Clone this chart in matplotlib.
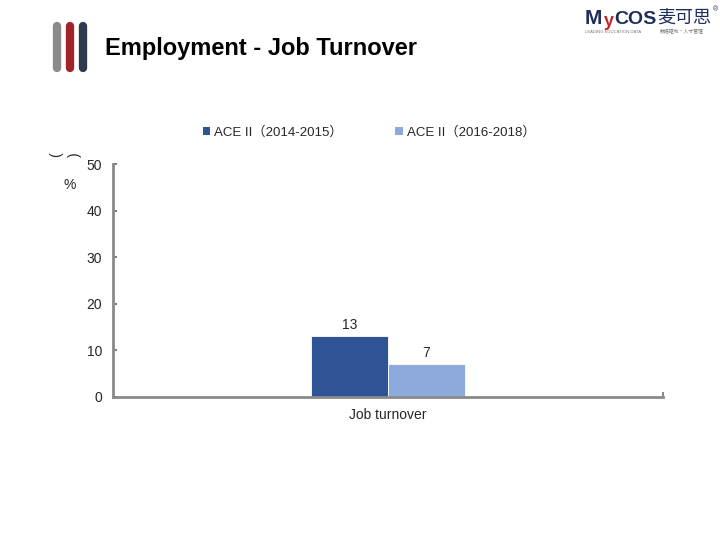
import matplotlib
matplotlib.use("Agg")
import matplotlib.pyplot as plt
from matplotlib.lines import Line2D
from matplotlib.patches import Patch
import numpy as np

plt.rcParams['font.family'] = ['Liberation Sans', 'Noto Sans CJK SC', 'DejaVu Sans']

categories = ["Job turnover"]
series_names = ["ACE II（2014-2015）", "ACE II（2016-2018）"]
values_2014 = [13]
values_2016 = [7]
yticks = [0, 10, 20, 30, 40, 50]
colors = ["#2F5495", "#8EAADC"]

fig = plt.figure(figsize=(7.2, 5.4), dpi=100)
ax = fig.add_axes([113/720, 1-397/540, 550/720, 233/540])

x = np.arange(len(categories))
w = 0.14
b1 = ax.bar(x - w/2, values_2014, w, color=colors[0], edgecolor='white', linewidth=0.6, label=series_names[0])
b2 = ax.bar(x + w/2, values_2016, w, color=colors[1], edgecolor='white', linewidth=0.6, label=series_names[1])
for bars, vals in ((b1, values_2014), (b2, values_2016)):
    for r, v in zip(bars, vals):
        ax.annotate(f"{v:g}", (r.get_x() + r.get_width()/2, v), xytext=(0, 3.5),
                    textcoords='offset points', ha='center', va='bottom', fontsize=10, color='#262626')

ax.set_xlim(-0.5, 0.5)
ax.set_ylim(0, 50)
ax.set_yticks(yticks)
ax.set_xticks(x)
ax.set_xticklabels(categories)
ax.tick_params(axis='y', direction='in', length=3, color='#808080', width=1.5, labelsize=10, labelcolor='#262626', pad=8)
ax.tick_params(axis='x', length=0, labelsize=10, labelcolor='#262626', pad=8)
for s in ['top', 'right']:
    ax.spines[s].set_visible(False)
for s in ['left', 'bottom']:
    ax.spines[s].set_color('#8a8a8a')
    ax.spines[s].set_linewidth(2)
# category boundary tick on x axis (right end)
ax.plot([0.5, 0.5], [0, 0.8], color='#8a8a8a', lw=1.5, clip_on=False)

handles = [Patch(facecolor=colors[0]), Patch(facecolor=colors[1])]
fig.legend(handles, series_names, loc='center', bbox_to_anchor=(369/720, 1-132/540), ncol=2,
           frameon=False, fontsize=9.5, handlelength=0.55, handleheight=0.55, handletextpad=0.3,
           columnspacing=4.0, labelcolor='#262626')

# y-axis unit label (rendered rotated in the reference)
fig.text(56/720, 1-155/540, "(", rotation=90, ha='center', va='center', fontsize=10, color='#262626')
fig.text(75/720, 1-155/540, ")", rotation=90, ha='center', va='center', fontsize=10, color='#262626')
fig.text(70/720, 1-185/540, "%", ha='center', va='center', fontsize=10, color='#262626')

# title
fig.text(105/720, 1-48/540, "Employment - Job Turnover", ha='left', va='center', fontsize=17,
         fontweight='bold', color='black')

# left decoration: three rounded bars
for xp, c in ((57, '#8a8a8a'), (70, '#a3232b'), (83, '#2e3a4e')):
    fig.add_artist(Line2D([xp/720, xp/720], [1-26/540, 1-68/540], color=c, lw=6,
                          solid_capstyle='round', transform=fig.transFigure))

# logo top right
fig.text(585/720, 1-19/540, "M", ha='left', va='center', fontsize=15, fontweight='bold', color='#1f2d5a')
fig.text(604/720, 1-21/540, "y", ha='left', va='center', fontsize=13, fontweight='bold', color='#c0272d')
fig.text(614/720, 1-19/540, "COS", ha='left', va='center', fontsize=14, fontweight='bold', color='#1f2d5a')
fig.text(657/720, 1-19/540, "麦可思", ha='left', va='center', fontsize=13, color='#1f2d5a',
         family=['Noto Sans CJK SC'])
fig.text(713/720, 1-10/540, "®", ha='left', va='center', fontsize=5, color='#1f2d5a')
fig.text(585/720, 1-32/540, "LEADING EDUCATION DATA", ha='left', va='center', fontsize=3, color='#777777')
fig.text(660/720, 1-32/540, "数据驱动·人才管理", ha='left', va='center', fontsize=3.5, color='#777777',
         family=['Noto Sans CJK SC'])

fig.savefig("out.png", dpi=100, facecolor='white')
